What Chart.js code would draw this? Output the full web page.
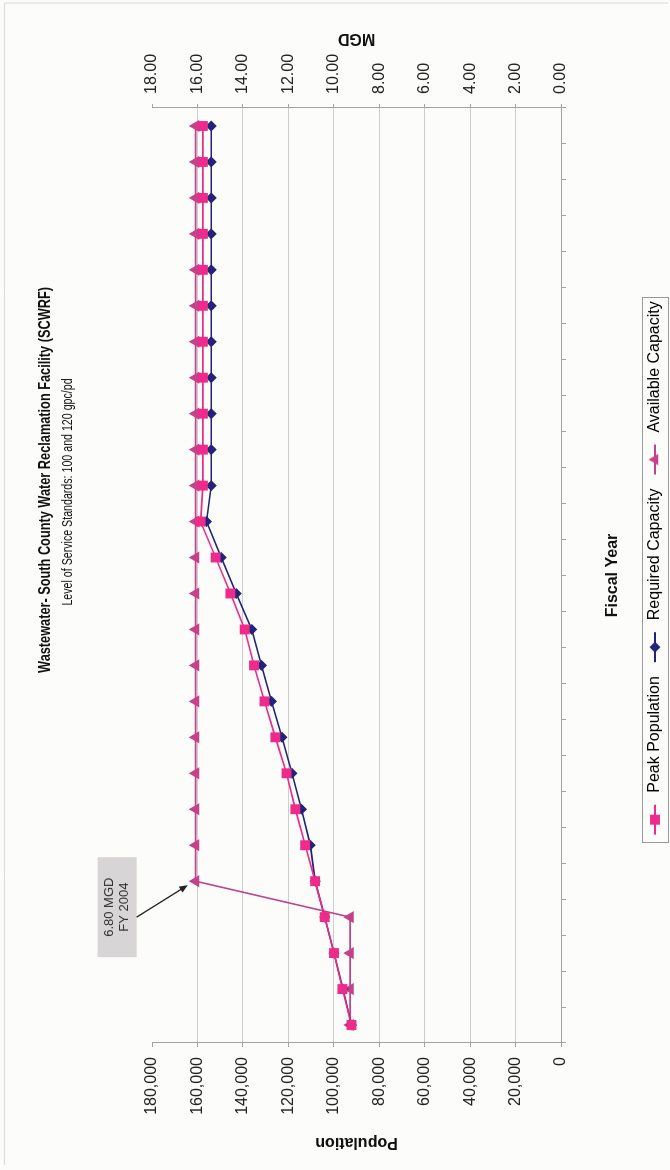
<!DOCTYPE html>
<html>
<head>
<meta charset="utf-8">
<script src="https://cdn.jsdelivr.net/npm/chart.js@4.4.1/dist/chart.umd.min.js"></script>
<style>
  html, body { margin: 0; padding: 0; background: #fcfcfa; overflow: hidden; }
  /* the chart is drawn landscape and turned a quarter turn, like the scanned page */
  #page { position: absolute; left: 0; top: 0; width: 1170px; height: 670px;
          transform-origin: 0 0; transform: translateY(1170px) rotate(-90deg); }
  canvas { display: block; }
</style>
</head>
<body>
<div id="page"><canvas id="chart" width="1170" height="670"></canvas></div>
<script>
const chartTitle = 'Wastewater- South County Water Reclamation Facility (SCWRF)';
const chartSubtitle = 'Level of Service Standards: 100 and 120 gpc/pd';

const fiscalYears = ['FY 2000', 'FY 2001', 'FY 2002', 'FY 2003', 'FY 2004', 'FY 2005', 'FY 2006',
  'FY 2007', 'FY 2008', 'FY 2009', 'FY 2010', 'FY 2011', 'FY 2012', 'FY 2013', 'FY 2014',
  'FY 2015', 'FY 2016', 'FY 2017', 'FY 2018', 'FY 2019', 'FY 2020', 'FY 2021', 'FY 2022',
  'FY 2023', 'FY 2024', 'FY 2025'];

// persons
const peakPopulation = [92200, 96200, 99900, 104000, 108200, 112600, 116900, 120800, 125700,
  130500, 135100, 139200, 145500, 152000, 158600, 157600, 157600, 157600, 157600, 157600,
  157600, 157600, 157600, 157600, 157600, 157600];

// MGD
const requiredCapacity = [9.22, 9.59, 9.99, 10.40, 10.82, 11.03, 11.42, 11.84, 12.28, 12.74,
  13.18, 13.61, 14.29, 14.95, 15.60, 15.39, 15.39, 15.39, 15.39, 15.39, 15.39, 15.39, 15.39,
  15.39, 15.39, 15.39];

const availableCapacity = [9.28, 9.28, 9.28, 9.28, 16.08, 16.08, 16.08, 16.08, 16.08, 16.08,
  16.08, 16.08, 16.08, 16.08, 16.08, 16.08, 16.08, 16.08, 16.08, 16.08, 16.08, 16.08, 16.08,
  16.08, 16.08, 16.08];

const populationTicks = [0, 180000, 20000];   // min, max, step
const mgdTicks = [0, 18, 2];

const noteLines = ['6.80 MGD', 'FY 2004'];
const noteIndex = 4;

const PINK = '#ee2a8a';
const NAVY = '#23237a';
const MAUVE = '#c4428a';
const FONT = '"Liberation Sans", Arial, Helvetica, sans-serif';

Chart.defaults.font.family = FONT;
Chart.defaults.font.size = 16;
Chart.defaults.color = '#222';

function drawMarker(ctx, style, x, y, r) {
  ctx.beginPath();
  if (style === 'rect') {
    const s = r * Math.SQRT1_2;
    ctx.rect(x - s, y - s, 2 * s, 2 * s);
  } else if (style === 'rectRot') {
    ctx.moveTo(x, y - r); ctx.lineTo(x + r, y); ctx.lineTo(x, y + r); ctx.lineTo(x - r, y);
    ctx.closePath();
  } else {
    ctx.moveTo(x, y - r); ctx.lineTo(x + r * 0.87, y + r * 0.5); ctx.lineTo(x - r * 0.87, y + r * 0.5);
    ctx.closePath();
  }
  ctx.fill();
}

function legendIcon(color, style, r) {
  const c = document.createElement('canvas');
  c.width = 38; c.height = 16;
  const g = c.getContext('2d');
  g.strokeStyle = color; g.fillStyle = color; g.lineWidth = 2;
  g.beginPath(); g.moveTo(4, 8); g.lineTo(34, 8); g.stroke();
  drawMarker(g, style, 19, 8, r);
  return c;
}

const icons = [legendIcon(PINK, 'rect', 7), legendIcon(NAVY, 'rectRot', 5.5), legendIcon(MAUVE, 'triangle', 6.5)];

// narrow face for the heading, drawn as text squeezed sideways
function narrowText(ctx, text, x, y, squeeze) {
  ctx.save();
  ctx.translate(x, y);
  ctx.scale(squeeze, 1);
  ctx.fillText(text, 0, 0);
  ctx.restore();
}

const extras = {
  id: 'extras',
  afterLayout(chart) {
    const lg = chart.legend;
    lg.left += 15; lg.right += 15;
    lg.top += 3; lg.bottom += 3;
  },
  afterDraw(chart) {
    const { ctx, chartArea } = chart;
    ctx.save();

    // faint page edge from the scan
    ctx.strokeStyle = '#d9d9d6'; ctx.lineWidth = 1;
    ctx.beginPath(); ctx.moveTo(5, 4.5); ctx.lineTo(1167, 4.5); ctx.lineTo(1167, 668); ctx.stroke();

    ctx.fillStyle = '#111';
    ctx.textAlign = 'center';
    ctx.textBaseline = 'middle';
    ctx.font = 'bold 17px ' + FONT;
    narrowText(ctx, chartTitle, 690, 45, 0.75);
    ctx.font = '14px ' + FONT;
    narrowText(ctx, chartSubtitle, 678, 68, 0.76);

    // right axis title, read bottom to top like the left one
    ctx.save();
    ctx.translate(chartArea.right + 70, (chartArea.top + chartArea.bottom) / 2);
    ctx.rotate(-Math.PI / 2);
    ctx.font = 'bold 16px ' + FONT;
    ctx.fillText('MGD', 0, 0);
    ctx.restore();

    // call-out box with arrow to the FY 2004 capacity point
    const pt = chart.getDatasetMeta(2).data[noteIndex];
    const bx = pt.x - 76, by = pt.y - 98, bw = 100, bh = 39;
    ctx.fillStyle = '#d7d5d5';
    ctx.fillRect(bx, by, bw, bh);
    ctx.fillStyle = '#333';
    ctx.font = '13px ' + FONT;
    ctx.fillText(noteLines[0], bx + bw / 2, by + 12);
    ctx.fillText(noteLines[1], bx + bw / 2, by + 27);

    const x0 = pt.x - 36, y0 = by + bh, x1 = pt.x - 4, y1 = pt.y - 8;
    const ang = Math.atan2(y1 - y0, x1 - x0);
    ctx.strokeStyle = '#222'; ctx.fillStyle = '#222'; ctx.lineWidth = 1.3;
    ctx.beginPath(); ctx.moveTo(x0, y0); ctx.lineTo(x1 - 6 * Math.cos(ang), y1 - 6 * Math.sin(ang)); ctx.stroke();
    ctx.beginPath();
    ctx.moveTo(x1, y1);
    ctx.lineTo(x1 - 9 * Math.cos(ang - 0.4), y1 - 9 * Math.sin(ang - 0.4));
    ctx.lineTo(x1 - 9 * Math.cos(ang + 0.4), y1 - 9 * Math.sin(ang + 0.4));
    ctx.closePath(); ctx.fill();

    // legend frame
    const boxes = chart.legend.legendHitBoxes;
    if (boxes && boxes.length) {
      const first = boxes[0], last = boxes[boxes.length - 1];
      ctx.strokeStyle = '#999'; ctx.lineWidth = 1;
      ctx.strokeRect(Math.round(first.left - 4) + 0.5, Math.round(first.top - 5) + 0.5,
        Math.round(last.left + last.width - first.left + 8), Math.round(first.height + 10));
    }
    ctx.restore();
  }
};

new Chart(document.getElementById('chart'), {
  type: 'line',
  data: {
    labels: fiscalYears,
    datasets: [
      {
        label: 'Peak Population',
        data: peakPopulation,
        yAxisID: 'y',
        borderColor: PINK,
        backgroundColor: PINK,
        borderWidth: 1.6,
        pointStyle: 'rect',
        pointRadius: 7,
        pointBorderWidth: 0,
        tension: 0
      },
      {
        label: 'Required Capacity',
        data: requiredCapacity,
        yAxisID: 'y1',
        borderColor: NAVY,
        backgroundColor: NAVY,
        borderWidth: 1.6,
        pointStyle: 'rectRot',
        pointRadius: 5.5,
        pointBorderWidth: 0,
        tension: 0
      },
      {
        label: 'Available Capacity',
        data: availableCapacity,
        yAxisID: 'y1',
        borderColor: MAUVE,
        backgroundColor: MAUVE,
        borderWidth: 1.6,
        pointStyle: 'triangle',
        pointRadius: 7,
        pointBorderWidth: 0,
        tension: 0
      }
    ]
  },
  options: {
    responsive: false,
    animation: false,
    devicePixelRatio: 1,
    layout: { padding: { top: 152, left: 0, right: 0, bottom: 0 } },
    plugins: {
      tooltip: { enabled: false },
      legend: {
        position: 'bottom',
        labels: {
          usePointStyle: true,
          pointStyleWidth: 38,
          padding: 10,
          color: '#333',
          font: { size: 16 },
          generateLabels: chart => chart.data.datasets.map((ds, i) => ({
            text: ds.label,
            pointStyle: icons[i],
            fillStyle: ds.borderColor,
            strokeStyle: ds.borderColor,
            lineWidth: 0,
            hidden: false,
            datasetIndex: i
          }))
        }
      }
    },
    scales: {
      x: {
        type: 'category',
        offset: true,
        border: { color: '#a3a3a3' },
        grid: { offset: true, drawOnChartArea: false, tickLength: 5, color: '#a3a3a3' },
        ticks: { display: false },
        title: { display: true, text: 'Fiscal Year', font: { size: 16, weight: 'bold' }, color: '#111',
                 padding: { top: 0, bottom: 12 } },
        afterFit: s => { s.height = 73; }
      },
      y: {
        position: 'left',
        min: populationTicks[0],
        max: populationTicks[1],
        border: { color: '#a3a3a3' },
        grid: {
          color: c => (c.tick && c.tick.value === populationTicks[1]) ? 'rgba(0,0,0,0)' : '#cdcdcd',
          tickColor: '#a3a3a3',
          tickLength: 4
        },
        ticks: {
          stepSize: populationTicks[2],
          padding: 10,
          color: '#222',
          callback: v => v.toLocaleString('en-US')
        },
        title: { display: true, text: 'Population', font: { size: 16, weight: 'bold' }, color: '#111',
                 padding: { top: 18, bottom: 0 } },
        afterFit: s => { s.width = 127; }
      },
      y1: {
        position: 'right',
        min: mgdTicks[0],
        max: mgdTicks[1],
        border: { color: '#a3a3a3' },
        grid: { drawOnChartArea: false, tickColor: '#a3a3a3', tickLength: 4 },
        ticks: {
          stepSize: mgdTicks[2],
          padding: 10,
          color: '#222',
          callback: v => v.toFixed(2)
        },
        afterFit: s => { s.width = 108; }
      }
    }
  },
  plugins: [extras]
});
</script>
</body>
</html>
